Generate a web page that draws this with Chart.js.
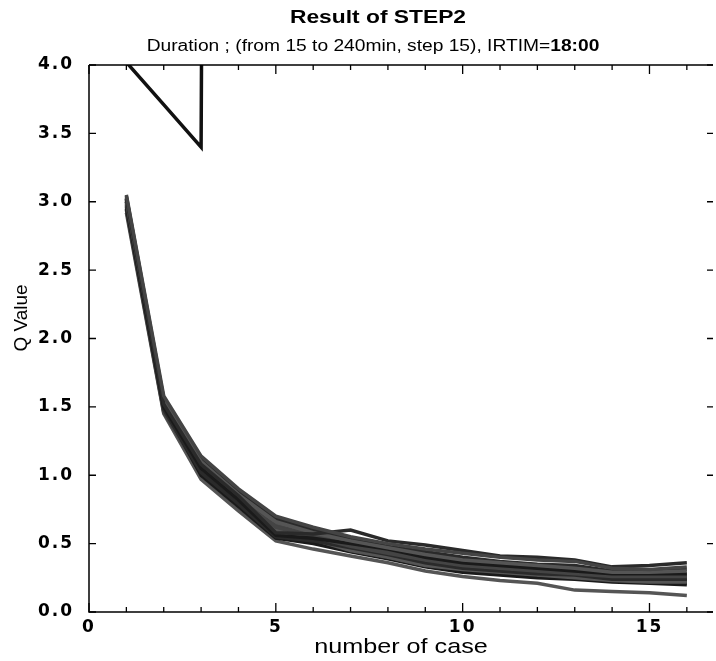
<!DOCTYPE html>
<html>
<head>
<meta charset="utf-8">
<script src="https://cdn.jsdelivr.net/npm/chart.js@4.4.1/dist/chart.umd.min.js"></script>
<style>
  html, body { margin: 0; padding: 0; background: #fff; }
  #wrap { width: 716px; height: 661px; }
</style>
</head>
<body>
<div id="wrap"><canvas id="chart" width="716" height="661"></canvas></div>
<script>
// case numbers on the x axis
const cases = [1, 2, 3, 4, 5, 6, 7, 8, 9, 10, 11, 12, 13, 14, 15, 16];

// Q value per case, one array per duration (min)
const d15  = [4.02, 3.71, 3.40, 60];   // runs off the top of the plot
const d30  = [3.05, 1.58, 1.14, 0.90, 0.70, 0.62, 0.55, 0.50, 0.46, 0.43, 0.40, 0.38, 0.37, 0.32, 0.31, 0.33];
const d45  = [3.02, 1.52, 1.08, 0.85, 0.58, 0.57, 0.60, 0.52, 0.49, 0.45, 0.41, 0.40, 0.38, 0.33, 0.34, 0.36];
const d60  = [3.00, 1.55, 1.10, 0.86, 0.66, 0.58, 0.52, 0.47, 0.42, 0.38, 0.36, 0.34, 0.32, 0.29, 0.29, 0.30];
const d75  = [2.98, 1.50, 1.05, 0.82, 0.56, 0.54, 0.50, 0.46, 0.40, 0.36, 0.34, 0.32, 0.30, 0.28, 0.28, 0.28];
const d90  = [3.03, 1.53, 1.07, 0.83, 0.62, 0.55, 0.48, 0.43, 0.38, 0.34, 0.32, 0.30, 0.28, 0.26, 0.26, 0.26];
const d105 = [2.95, 1.48, 1.02, 0.79, 0.55, 0.52, 0.47, 0.42, 0.36, 0.32, 0.30, 0.28, 0.27, 0.24, 0.24, 0.24];
const d120 = [2.99, 1.51, 1.04, 0.80, 0.60, 0.53, 0.45, 0.40, 0.34, 0.31, 0.29, 0.27, 0.25, 0.23, 0.22, 0.22];
const d135 = [3.01, 1.50, 1.00, 0.77, 0.54, 0.50, 0.44, 0.39, 0.33, 0.29, 0.27, 0.25, 0.24, 0.22, 0.21, 0.20];
const d150 = [2.97, 1.47, 1.03, 0.81, 0.63, 0.56, 0.49, 0.45, 0.39, 0.35, 0.33, 0.31, 0.29, 0.27, 0.27, 0.27];
const d165 = [3.04, 1.56, 1.12, 0.88, 0.68, 0.60, 0.53, 0.48, 0.44, 0.40, 0.37, 0.35, 0.34, 0.30, 0.30, 0.31];
const d180 = [2.96, 1.49, 1.06, 0.83, 0.64, 0.57, 0.50, 0.46, 0.41, 0.37, 0.35, 0.33, 0.31, 0.28, 0.27, 0.25];
const d195 = [3.00, 1.52, 1.09, 0.84, 0.61, 0.55, 0.49, 0.44, 0.40, 0.36, 0.34, 0.33, 0.31, 0.27, 0.26, 0.23];
const d210 = [2.94, 1.46, 1.01, 0.78, 0.57, 0.51, 0.46, 0.41, 0.35, 0.31, 0.29, 0.28, 0.26, 0.23, 0.22, 0.21];
const d225 = [3.02, 1.54, 1.11, 0.87, 0.67, 0.59, 0.51, 0.45, 0.39, 0.36, 0.34, 0.32, 0.30, 0.26, 0.25, 0.25];
const d240 = [2.92, 1.45, 0.97, 0.74, 0.52, 0.46, 0.41, 0.36, 0.30, 0.26, 0.23, 0.21, 0.16, 0.15, 0.14, 0.12];

const durations = [15, 30, 45, 60, 75, 90, 105, 120, 135, 150, 165, 180, 195, 210, 225, 240];
const series = [d15, d30, d45, d60, d75, d90, d105, d120, d135, d150, d165, d180, d195, d210, d225, d240];

const xTickLabels = [0, 5, 10, 15];
const yTickStep = 0.5;

const titleText = "Result of STEP2";
const subtitleText = "Duration ; (from 15 to 240min, step 15), IRTIM=";
const subtitleBold = "18:00";
const xTitle = "number of case";
const yTitle = "Q Value";

// dithered look of the original: mix of dark and mid greys
const shades = ["#1a1a1a", "#444", "#2a2a2a", "#555"];

const datasets = series.map((vals, i) => ({
  label: durations[i] + " min",
  data: vals.map((v, j) => ({ x: cases[j], y: v })),
  borderColor: i === 0 ? "#111" : shades[i % shades.length],
  borderWidth: 3.5,
  pointRadius: 0,
  tension: 0,
  fill: false,
}));

const FONT = "'Liberation Sans', Arial, sans-serif";
const TICK_FONT = "'DejaVu Sans', sans-serif";
const STRETCH = 1.2; // the original lettering is a bit wide

// draw text stretched horizontally, anchored at (x, y)
function wideText(ctx, text, x, y, font, align) {
  ctx.save();
  ctx.font = font;
  ctx.textAlign = align || "center";
  ctx.translate(x, y);
  ctx.scale(STRETCH, 1);
  ctx.fillText(text, 0, 0);
  ctx.restore();
}

// frame with inward ticks on all four sides, titles drawn by hand
const frame = {
  id: "frame",
  beforeDraw(chart) {
    chart.ctx.letterSpacing = "2px";   // wide tick numbers
  },
  afterDatasetsDraw(chart) {
    const { ctx, chartArea: a, scales: { x, y } } = chart;
    ctx.save();
    ctx.strokeStyle = "#000";
    ctx.lineWidth = 1.5;
    ctx.beginPath();
    ctx.moveTo(a.left, a.top);
    ctx.lineTo(a.left, a.bottom);
    ctx.lineTo(a.right, a.bottom);
    ctx.moveTo(a.left, a.top);
    ctx.lineTo(a.right, a.top);
    ctx.stroke();

    ctx.lineWidth = 1.3;
    ctx.beginPath();
    for (let v = 0; v <= 16; v++) {
      const px = x.getPixelForValue(v);
      const len = v % 5 === 0 ? 9 : 5;
      ctx.moveTo(px, a.bottom);
      ctx.lineTo(px, a.bottom - len);
      ctx.moveTo(px, a.top);
      ctx.lineTo(px, a.top + len);
    }
    for (let v = 0; v <= 4; v += yTickStep) {
      const py = y.getPixelForValue(v);
      ctx.moveTo(a.left, py);
      ctx.lineTo(a.left + 7, py);
      ctx.moveTo(a.right, py);
      ctx.lineTo(a.right - 6, py);
    }
    ctx.stroke();
    ctx.restore();
  },
  afterDraw(chart) {
    const { ctx, chartArea: a } = chart;
    ctx.save();
    ctx.letterSpacing = "0px";
    ctx.fillStyle = "#000";
    ctx.textBaseline = "alphabetic";

    wideText(ctx, titleText, 378, 23, "bold 19px " + FONT);

    const fN = "16px " + FONT, fB = "bold 16px " + FONT;
    ctx.font = fN;
    const w1 = ctx.measureText(subtitleText).width * STRETCH;
    ctx.font = fB;
    const w2 = ctx.measureText(subtitleBold).width * STRETCH;
    const sx = 373 - (w1 + w2) / 2;
    wideText(ctx, subtitleText, sx, 51, fN, "left");
    wideText(ctx, subtitleBold, sx + w1, 51, fB, "left");

    wideText(ctx, xTitle, (a.left + a.right) / 2, 653, "21px " + FONT);

    // rotated y title
    ctx.save();
    ctx.font = "19px " + FONT;
    ctx.textAlign = "center";
    ctx.textBaseline = "middle";
    ctx.translate(22, 318);
    ctx.rotate(-Math.PI / 2);
    ctx.fillText(yTitle, 0, 0);
    ctx.restore();

    ctx.restore();
  },
};

new Chart(document.getElementById("chart"), {
  type: "line",
  data: { datasets },
  options: {
    responsive: false,
    animation: false,
    devicePixelRatio: 1,
    layout: { padding: { top: 65, right: 3, left: 0, bottom: 0 } },
    plugins: {
      legend: { display: false },
      title: { display: false },
      tooltip: { enabled: false },
    },
    scales: {
      x: {
        type: "linear",
        min: 0,
        max: 16.7,
        grid: { display: false, drawTicks: false },
        border: { display: false },
        afterFit(scale) { scale.height = 49; },
        afterBuildTicks(scale) { scale.ticks = xTickLabels.map(v => ({ value: v })); },
        ticks: { color: "#000", padding: 5, maxRotation: 0, font: { family: TICK_FONT, size: 17, weight: "bold" } },
      },
      y: {
        type: "linear",
        min: 0,
        max: 4,
        grid: { display: false, drawTicks: false },
        border: { display: false },
        afterFit(scale) { scale.width = 89; },
        ticks: {
          stepSize: yTickStep,
          color: "#000",
          padding: 15,
          font: { family: TICK_FONT, size: 17, weight: "bold" },
          callback: v => v.toFixed(1),
        },
      },
    },
  },
  plugins: [frame],
});
</script>
</body>
</html>
